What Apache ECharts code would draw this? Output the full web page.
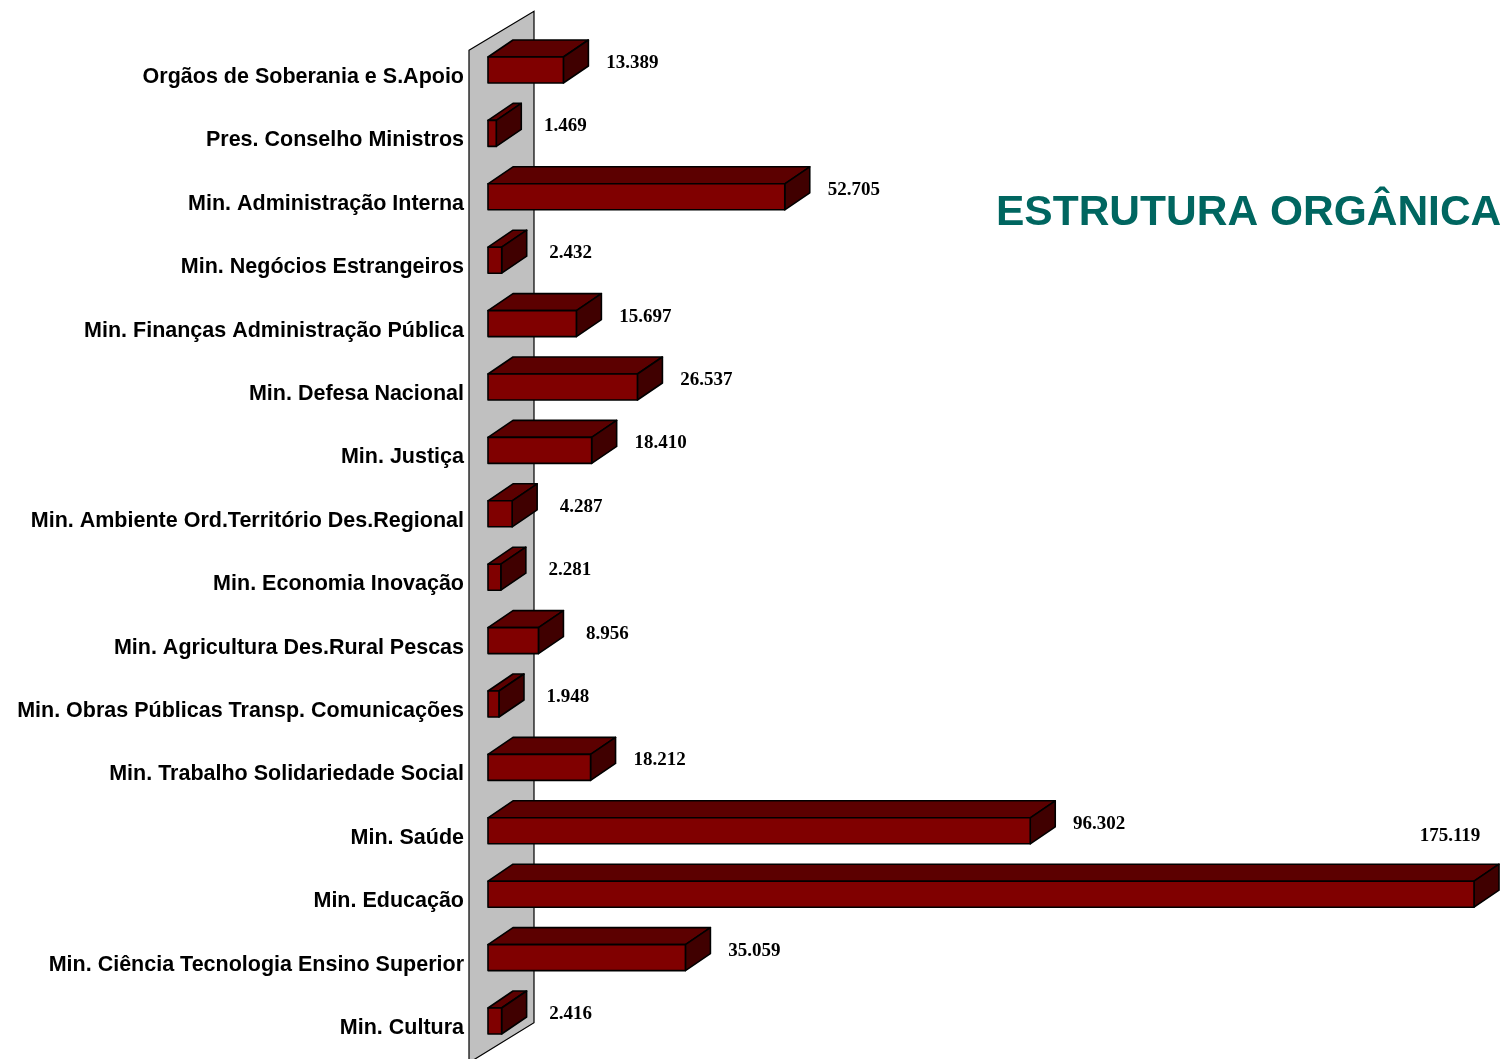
<!DOCTYPE html>
<html>
<head>
<meta charset="utf-8">
<script src="https://cdn.jsdelivr.net/npm/echarts@6/dist/echarts.min.js"></script>
<style>
  html, body { margin: 0; padding: 0; background: #fff; }
  #chart { width: 1502px; height: 1059px; }
</style>
</head>
<body>
<div id="chart"></div>
<script>
const categories = [
  'Orgãos de Soberania e S.Apoio',
  'Pres. Conselho Ministros',
  'Min. Administração Interna',
  'Min. Negócios Estrangeiros',
  'Min. Finanças Administração Pública',
  'Min. Defesa Nacional',
  'Min. Justiça',
  'Min. Ambiente Ord.Território Des.Regional',
  'Min. Economia Inovação',
  'Min. Agricultura Des.Rural Pescas',
  'Min. Obras Públicas Transp. Comunicações',
  'Min. Trabalho Solidariedade Social',
  'Min. Saúde',
  'Min. Educação',
  'Min. Ciência Tecnologia Ensino Superior',
  'Min. Cultura'
];
const values = [13389, 1469, 52705, 2432, 15697, 26537, 18410, 4287, 2281, 8956, 1948, 18212, 96302, 175119, 35059, 2416];
const titleText = 'ESTRUTURA ORGÂNICA';

const chart = echarts.init(document.getElementById('chart'));

// 3D depth of the boxes
const DX = 25, DY = -17, BAR_H = 26;

function fmt(v) {
  return String(v).replace(/\B(?=(\d{3})+(?!\d))/g, '.');
}

function renderBar(params, api) {
  const idx = api.value(0);
  const val = api.value(1);
  const start = api.coord([0, idx]);
  const end = api.coord([val, idx]);
  const x0 = start[0], x1 = end[0], yc = start[1];
  const top = yc - BAR_H / 2, bot = yc + BAR_H / 2;
  const stroke = { stroke: '#000', lineWidth: 1.6, lineJoin: 'round' };

  // value label: right of the box, or above it when there is no room
  let lx = x1 + 69, ly = yc - 7;
  if (lx + 40 > params.coordSys.x + params.coordSys.width) {
    lx = x1 - 24;
    ly = yc - 58;
  }

  return {
    type: 'group',
    children: [
      {
        type: 'polygon',
        shape: { points: [[x0, top], [x0 + DX, top + DY], [x1 + DX, top + DY], [x1, top]] },
        style: Object.assign({ fill: '#5c0000' }, stroke)
      },
      {
        type: 'polygon',
        shape: { points: [[x1, top], [x1 + DX, top + DY], [x1 + DX, bot + DY], [x1, bot]] },
        style: Object.assign({ fill: '#400000' }, stroke)
      },
      {
        type: 'rect',
        shape: { x: x0, y: top, width: x1 - x0, height: BAR_H },
        style: Object.assign({ fill: '#800000' }, stroke)
      },
      {
        type: 'text',
        x: lx, y: ly,
        style: {
          text: fmt(val),
          fill: '#000',
          font: 'bold 19px "Liberation Serif", "Times New Roman", serif',
          align: 'center',
          verticalAlign: 'middle'
        }
      }
    ]
  };
}

function renderWall(params) {
  const cs = params.coordSys;
  const lx = cs.x - 19, rx = lx + 65;
  return {
    type: 'polygon',
    shape: {
      points: [
        [lx, cs.y + 12], [rx, cs.y - 27],
        [rx, cs.y + cs.height - 30], [lx, cs.y + cs.height + 10]
      ]
    },
    style: { fill: '#c0c0c0', stroke: '#000', lineWidth: 1.2 }
  };
}

const option = {
  animation: false,
  backgroundColor: '#fff',
  graphic: [{
    type: 'text',
    left: 996,
    top: 192,
    style: {
      text: titleText,
      fill: '#006660',
      font: 'bold 42.5px "Liberation Sans", Arial, sans-serif'
    }
  }],
  grid: {
    left: 488,
    right: 0.5,
    top: 38.3,
    bottom: 6.3,
    outerBoundsMode: 'none'
  },
  xAxis: {
    type: 'value',
    min: 0,
    max: 180000,
    show: false
  },
  yAxis: {
    type: 'category',
    inverse: true,
    data: categories,
    axisLine: { show: false },
    axisTick: { show: false },
    splitLine: { show: false },
    axisLabel: {
      margin: 24,
      color: '#000',
      fontFamily: '"Liberation Sans", Arial, sans-serif',
      fontWeight: 'bold',
      fontSize: 21.5,
      verticalAlign: 'top',
      lineHeight: 14
    }
  },
  series: [
    {
      type: 'custom',
      name: 'wall',
      z: 1,
      silent: true,
      renderItem: renderWall,
      data: [[0, 0]]
    },
    {
      type: 'custom',
      name: 'bars',
      z: 2,
      renderItem: renderBar,
      encode: { x: 1, y: 0 },
      data: values.map((v, i) => [i, v]),
      clip: false
    }
  ]
};

chart.setOption(option);
</script>
</body>
</html>
